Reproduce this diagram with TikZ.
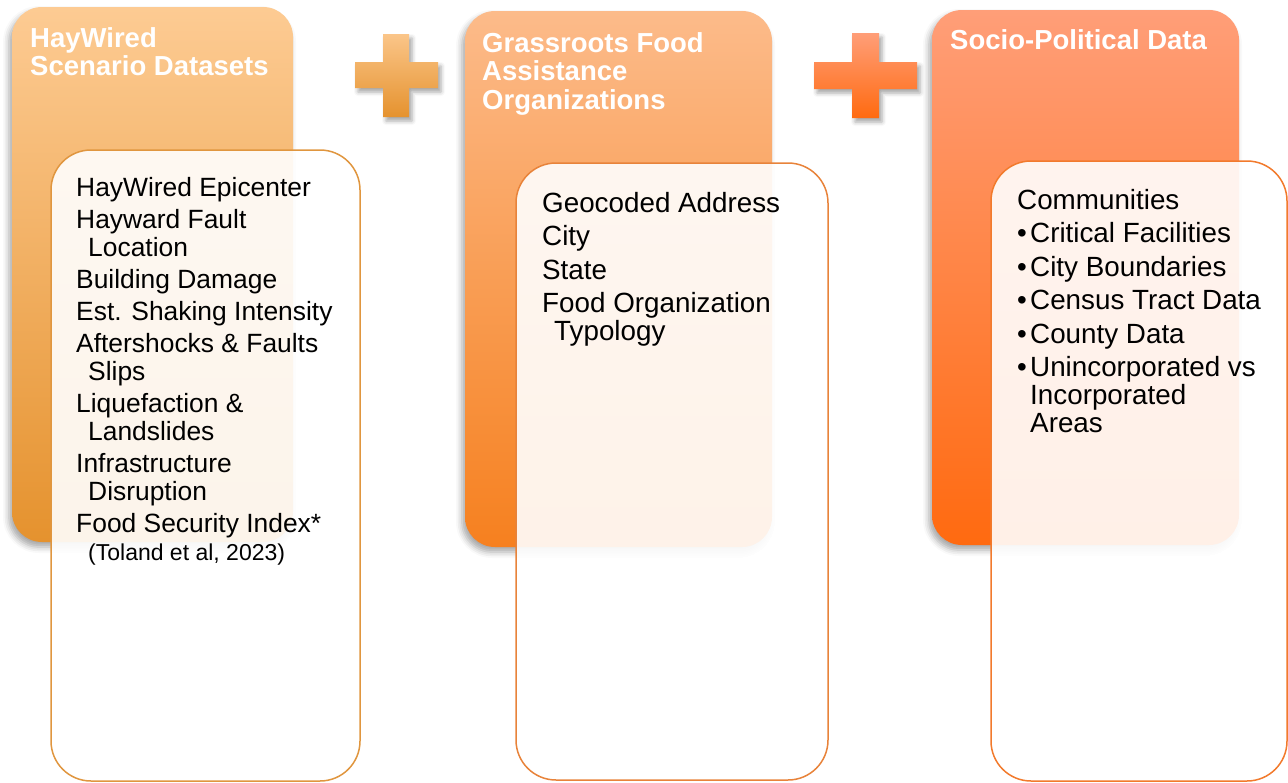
\documentclass[tikz,border=0pt]{standalone}
\usepackage{fontspec}
\setmainfont{Liberation Sans}
\usepackage{tikz}
\usetikzlibrary{shadows.blur}

\definecolor{hayTop}{HTML}{FDCB93}
\definecolor{hayBot}{HTML}{E5922E}
\definecolor{hayLine}{HTML}{E0963F}
\definecolor{grassTop}{HTML}{FCBB8A}
\definecolor{grassBot}{HTML}{F6801F}
\definecolor{grassLine}{HTML}{E8833A}
\definecolor{socioTop}{HTML}{FF9E78}
\definecolor{socioBot}{HTML}{FF6A10}
\definecolor{socioLine}{HTML}{F27A2C}

\begin{document}
\begin{tikzpicture}[x=1pt,y=-1pt,
	backbox/.style={rounded corners=30pt,
		blur shadow={shadow xshift=-3pt,shadow yshift=-5pt,shadow blur radius=6pt,shadow opacity=35}},
	itembox/.style={rounded corners=40pt,fill=white,fill opacity=0.9,line width=1.5pt},
	plusmark/.style={blur shadow={shadow xshift=3pt,shadow yshift=-4pt,shadow blur radius=4pt,shadow opacity=35}},
	headtext/.style={anchor=north west,inner sep=0pt,text=white,align=left,
		font=\bfseries\fontsize{27.5}{28.5}\selectfont},
	bodytext/.style={anchor=north west,inner sep=0pt,align=left,
		font=\fontsize{26.4}{28}\selectfont},
	bigbody/.style={bodytext,font=\fontsize{27.8}{28}\selectfont}]
	\useasboundingbox (0,0) rectangle (1288,782);
	
	% HayWired column
	\shade[backbox,top color=hayTop,bottom color=hayBot] (12,7) rectangle (293,542);
	\node[headtext] (hayhead) at (30,27) {HayWired\\Scenario Datasets};
	\draw[itembox,draw=hayLine] (51,150) rectangle (360,781);
	\node[bodytext] (hayitems) at (76,177) {HayWired Epicenter\\[4pt]
		Hayward Fault\\
		\hspace{12pt}Location\\[4pt]
		Building Damage\\[4pt]
		Est. Shaking Intensity\\[4pt]
		Aftershocks \& Faults\\
		\hspace{12pt}Slips\\[4pt]
		Liquefaction \&\\
		\hspace{12pt}Landslides\\[4pt]
		Infrastructure\\
		\hspace{12pt}Disruption\\[4pt]
		Food Security Index*\\
		\hspace{12pt}{\fontsize{23}{26}\selectfont (Toland et al, 2023)}};
	
	% plus signs
	\shade[plusmark,top color=hayTop!90!hayBot,bottom color=hayBot]
		(383,34) -- (409,34) -- (409,62) -- (438,62) -- (438,88) -- (409,88) -- (409,117)
		-- (383,117) -- (383,88) -- (355,88) -- (355,62) -- (383,62) -- cycle;
	\shade[plusmark,top color=socioTop,bottom color=socioBot]
		(852,33) -- (879,33) -- (879,62) -- (917,62) -- (917,89) -- (879,89) -- (879,118)
		-- (852,118) -- (852,89) -- (814,89) -- (814,62) -- (852,62) -- cycle;
	
	% Grassroots column
	\shade[backbox,top color=grassTop,bottom color=grassBot] (465,11) rectangle (772,547);
	\node[headtext] (grasshead) at (482,32) {Grassroots Food\\Assistance\\Organizations};
	\draw[itembox,draw=grassLine] (516,163) rectangle (828,780);
	\node[bigbody] (grassitems) at (542,192) {Geocoded Address\\[5.5pt]
		City\\[5.5pt]
		State\\[5.5pt]
		Food Organization\\
		\hspace{12pt}Typology};
	
	% Socio-political column
	\shade[backbox,top color=socioTop,bottom color=socioBot] (932,10) rectangle (1239,545);
	\node[headtext] (sociohead) at (950,29) {Socio-Political Data};
	\draw[itembox,draw=socioLine] (991,161) rectangle (1287,781);
	\node[bigbody] (socioitems) at (1017,189) {Communities\\[5.5pt]
		\makebox[13pt][l]{•}Critical Facilities\\[5.5pt]
		\makebox[13pt][l]{•}City Boundaries\\[5.5pt]
		\makebox[13pt][l]{•}Census Tract Data\\[5.5pt]
		\makebox[13pt][l]{•}County Data\\[5.5pt]
		\makebox[13pt][l]{•}Unincorporated vs\\
		\hspace{13pt}Incorporated\\
		\hspace{13pt}Areas};
\end{tikzpicture}
\end{document}
